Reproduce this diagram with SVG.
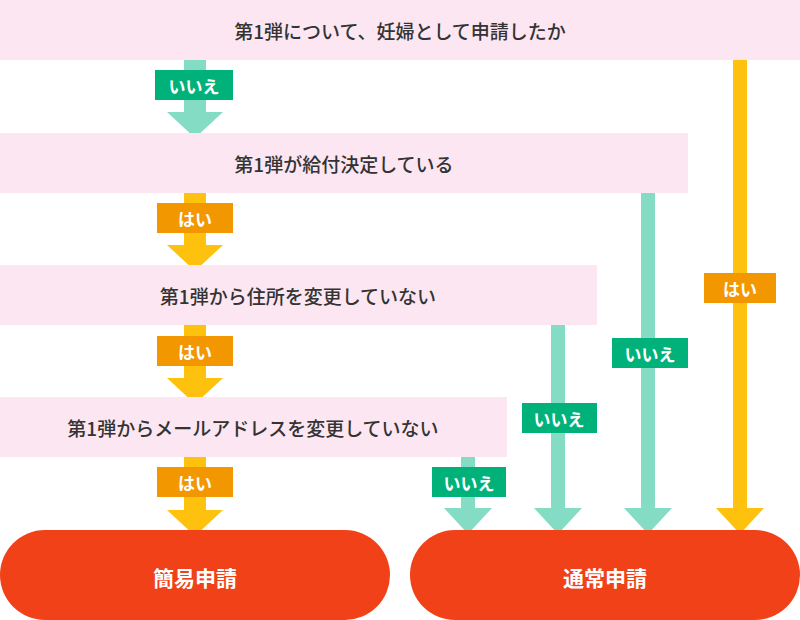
<svg xmlns="http://www.w3.org/2000/svg" width="800" height="620" viewBox="0 0 800 620">
<style>
.bar{fill:#fce6f1}
.q{font-family:"Noto Sans CJK JP",sans-serif;font-size:19px;font-weight:500;fill:#333;text-anchor:middle;dominant-baseline:central}
.t{fill:#85dcc4}.y{fill:#fec10d}
.lg{fill:#00b27a}.lo{fill:#f39700}
.l{font-family:"Noto Sans CJK JP",sans-serif;font-size:17px;font-weight:700;fill:#fff;text-anchor:middle;dominant-baseline:central}
.end{fill:#f04119}
.e{font-family:"Noto Sans CJK JP",sans-serif;font-size:21px;font-weight:700;fill:#fff;text-anchor:middle;dominant-baseline:central}
</style>
<g id="connectors">
<path class="t" d="M184 60h22v52h17l-28 26-28-26h17z"/>
<path class="y" d="M184 193h22v52h17l-28 26-28-26h17z"/>
<path class="y" d="M184 325h22v53h17l-28 26-28-26h17z"/>
<path class="y" d="M184 457h22v53h17l-28 26-28-26h17z"/>
<path class="t" d="M461 457h14v51h17l-24 26-24-26h17z"/>
<path class="t" d="M551 325h14v183h17l-24 26-24-26h17z"/>
<path class="t" d="M641 193h14v315h17l-24 26-24-26h17z"/>
<path class="y" d="M733 60h14v448h17l-24 26-24-26h17z"/>
<rect class="lg" x="155" y="70" width="78" height="30"/><text class="l" x="194" y="85">いいえ</text>
<rect class="lo" x="157" y="203" width="76" height="30"/><text class="l" x="195" y="218">はい</text>
<rect class="lo" x="157" y="336" width="76" height="30"/><text class="l" x="195" y="351">はい</text>
<rect class="lo" x="157" y="467" width="76" height="30"/><text class="l" x="195" y="482">はい</text>
<rect class="lg" x="432" y="467" width="74" height="30"/><text class="l" x="469" y="482">いいえ</text>
<rect class="lg" x="522" y="403" width="75" height="30"/><text class="l" x="559" y="418">いいえ</text>
<rect class="lg" x="612" y="338" width="76" height="30"/><text class="l" x="650" y="353">いいえ</text>
<rect class="lo" x="704" y="273" width="72" height="30"/><text class="l" x="740" y="288">はい</text>
</g>
<g id="q1"><rect class="bar" x="0" y="0" width="800" height="60"/><text class="q" x="400" y="30">第1弾について、妊婦として申請したか</text></g>
<g id="q2"><rect class="bar" x="0" y="133" width="688" height="60"/><text class="q" x="344" y="163">第1弾が給付決定している</text></g>
<g id="q3"><rect class="bar" x="0" y="265" width="597" height="60"/><text class="q" x="298" y="295">第1弾から住所を変更していない</text></g>
<g id="q4"><rect class="bar" x="0" y="397" width="507" height="60"/><text class="q" x="253" y="427">第1弾からメールアドレスを変更していない</text></g>
<g id="simple"><rect class="end" x="0" y="530" width="390" height="90" rx="45"/><text class="e" x="195" y="577">簡易申請</text></g>
<g id="normal"><rect class="end" x="410" y="530" width="390" height="90" rx="45"/><text class="e" x="605" y="577">通常申請</text></g>
</svg>
